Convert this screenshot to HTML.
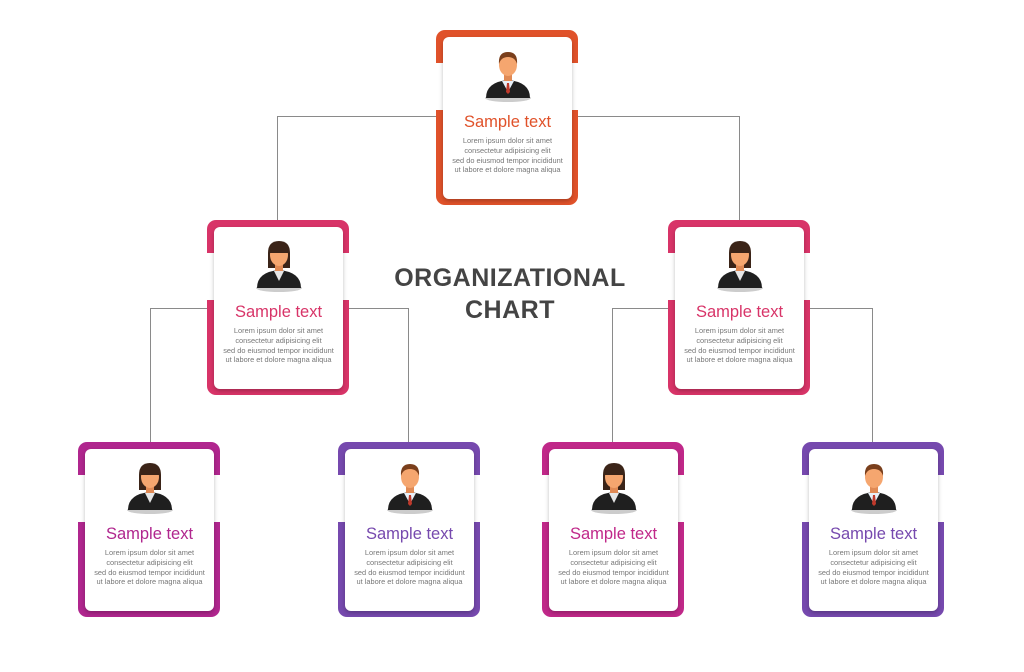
<!DOCTYPE html><html><head><style>
body{margin:0;width:1024px;height:672px;background:#fff;position:relative;overflow:hidden;font-family:"Liberation Sans",sans-serif}
.l{position:absolute;background:#8a8a8a}
.f{position:absolute;width:142px;height:175px;border-radius:9px}
.m{position:absolute;top:33px;width:9px;height:47px;background:#fff}
.c{position:absolute;left:7px;top:7px;width:129px;height:162px;background:#fff;border-radius:6px;box-shadow:0 2px 4px rgba(0,0,0,.25);text-align:center}
.c svg{position:absolute;left:35px;top:9px}
.t{position:absolute;left:0;right:0;top:75px;font-size:16.5px;line-height:20px}
.p{position:absolute;left:0;right:0;top:99px;font-size:7.4px;line-height:9.8px;color:#777}
h1{position:absolute;left:330px;width:360px;top:262px;margin:0;text-align:center;font-size:25px;line-height:32px;color:#444;font-weight:bold;letter-spacing:.5px}
</style></head><body>
<svg width="0" height="0" style="position:absolute"><defs>
<symbol id="man" viewBox="0 0 60 56"><ellipse cx="30" cy="52" rx="23" ry="4" fill="#ccc"/><path d="M8 52Q8 36 30 34Q52 36 52 52Z" fill="#1f1f1f"/><rect x="26" y="27" width="8" height="9" fill="#e08a55"/><path d="M24 35L30 46L36 35Z" fill="#e8f0f8"/><path d="M29 37L31 37L32 46L30 48L28 46Z" fill="#c0392b"/><ellipse cx="30" cy="19" rx="9" ry="11" fill="#f5a66f"/><path d="M21 18Q20 6 30 6Q40 6 39 18Q37 11 30 11Q23 11 21 18Z" fill="#7a3f1c"/></symbol>
<symbol id="wom" viewBox="0 0 60 56"><ellipse cx="30" cy="52" rx="23" ry="4" fill="#ccc"/><path d="M19 32L19 17Q19 5 30 5Q41 5 41 17L41 32Z" fill="#3b2418"/><path d="M8 52Q8 36 30 34Q52 36 52 52Z" fill="#1f1f1f"/><rect x="26" y="27" width="8" height="9" fill="#e08a55"/><path d="M25 35L30 45L35 35Z" fill="#e6e6e6"/><ellipse cx="30" cy="19" rx="9" ry="11" fill="#f5a66f"/><path d="M20 17Q21 7 30 7Q39 7 40 17Z" fill="#3b2418"/></symbol>
</defs></svg>
<div class="l" style="left:277px;top:116px;width:463px;height:1px"></div>
<div class="l" style="left:277px;top:116px;width:1px;height:105px"></div>
<div class="l" style="left:739px;top:116px;width:1px;height:105px"></div>
<div class="l" style="left:150px;top:308px;width:259px;height:1px"></div>
<div class="l" style="left:150px;top:308px;width:1px;height:135px"></div>
<div class="l" style="left:408px;top:308px;width:1px;height:135px"></div>
<div class="l" style="left:612px;top:308px;width:261px;height:1px"></div>
<div class="l" style="left:612px;top:308px;width:1px;height:135px"></div>
<div class="l" style="left:872px;top:308px;width:1px;height:135px"></div>
<h1>ORGANIZATIONAL<br>CHART</h1>

<div class="f" style="left:436px;top:30px;background:#e0522a"><div class="m" style="left:-1px"></div><div class="m" style="right:-1px"></div><div class="c"><svg width="60" height="56"><use href="#man"/></svg><div class="t" style="color:#e0522a">Sample text</div><div class="p">Lorem ipsum dolor sit amet<br>consectetur adipisicing elit<br>sed do eiusmod tempor incididunt<br>ut labore et dolore magna aliqua</div></div></div>

<div class="f" style="left:207px;top:220px;background:#d83468"><div class="m" style="left:-1px"></div><div class="m" style="right:-1px"></div><div class="c"><svg width="60" height="56"><use href="#wom"/></svg><div class="t" style="color:#d83468">Sample text</div><div class="p">Lorem ipsum dolor sit amet<br>consectetur adipisicing elit<br>sed do eiusmod tempor incididunt<br>ut labore et dolore magna aliqua</div></div></div>

<div class="f" style="left:668px;top:220px;background:#d83468"><div class="m" style="left:-1px"></div><div class="m" style="right:-1px"></div><div class="c"><svg width="60" height="56"><use href="#wom"/></svg><div class="t" style="color:#d83468">Sample text</div><div class="p">Lorem ipsum dolor sit amet<br>consectetur adipisicing elit<br>sed do eiusmod tempor incididunt<br>ut labore et dolore magna aliqua</div></div></div>

<div class="f" style="left:78px;top:442px;background:#b0268e"><div class="m" style="left:-1px"></div><div class="m" style="right:-1px"></div><div class="c"><svg width="60" height="56"><use href="#wom"/></svg><div class="t" style="color:#b0268e">Sample text</div><div class="p">Lorem ipsum dolor sit amet<br>consectetur adipisicing elit<br>sed do eiusmod tempor incididunt<br>ut labore et dolore magna aliqua</div></div></div>

<div class="f" style="left:338px;top:442px;background:#7649ae"><div class="m" style="left:-1px"></div><div class="m" style="right:-1px"></div><div class="c"><svg width="60" height="56"><use href="#man"/></svg><div class="t" style="color:#7649ae">Sample text</div><div class="p">Lorem ipsum dolor sit amet<br>consectetur adipisicing elit<br>sed do eiusmod tempor incididunt<br>ut labore et dolore magna aliqua</div></div></div>

<div class="f" style="left:542px;top:442px;background:#c02889"><div class="m" style="left:-1px"></div><div class="m" style="right:-1px"></div><div class="c"><svg width="60" height="56"><use href="#wom"/></svg><div class="t" style="color:#c02889">Sample text</div><div class="p">Lorem ipsum dolor sit amet<br>consectetur adipisicing elit<br>sed do eiusmod tempor incididunt<br>ut labore et dolore magna aliqua</div></div></div>

<div class="f" style="left:802px;top:442px;background:#7649ae"><div class="m" style="left:-1px"></div><div class="m" style="right:-1px"></div><div class="c"><svg width="60" height="56"><use href="#man"/></svg><div class="t" style="color:#7649ae">Sample text</div><div class="p">Lorem ipsum dolor sit amet<br>consectetur adipisicing elit<br>sed do eiusmod tempor incididunt<br>ut labore et dolore magna aliqua</div></div></div>
</body></html>
